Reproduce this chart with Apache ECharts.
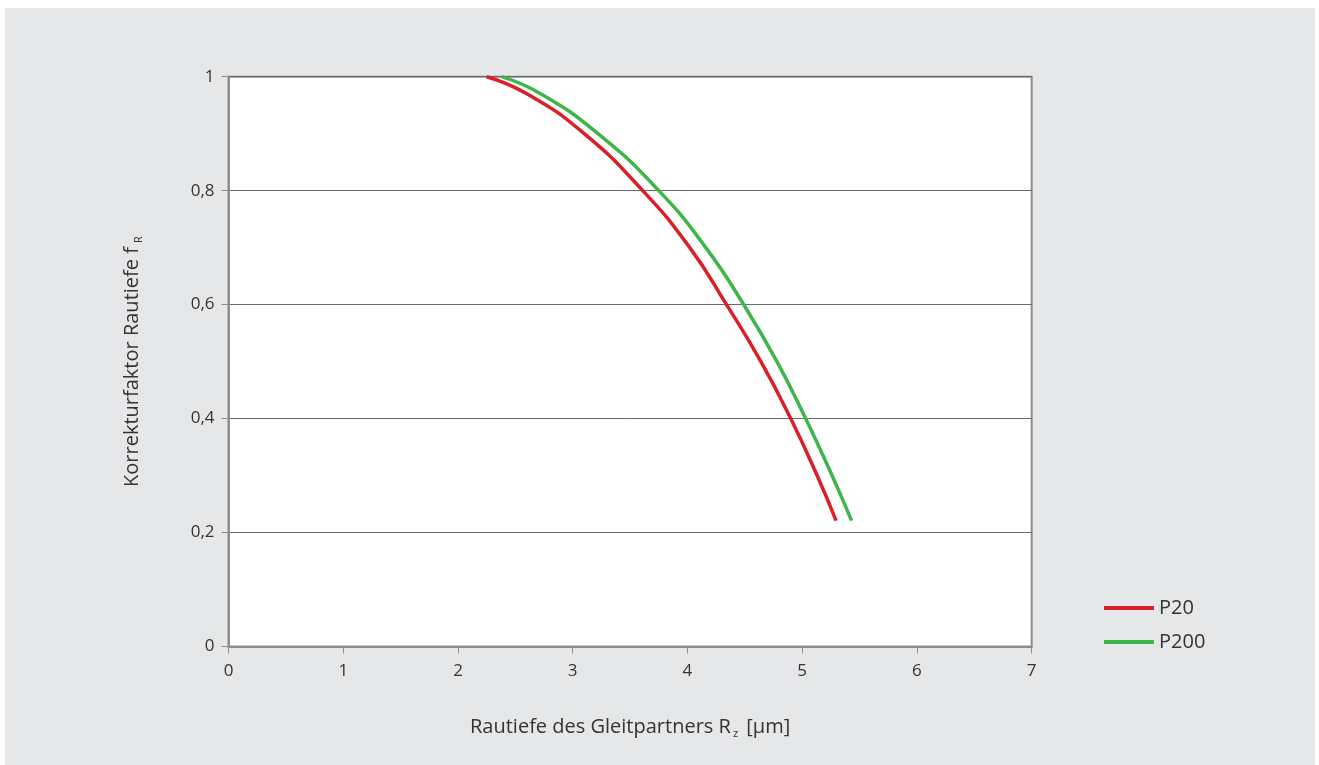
<!DOCTYPE html>
<html>
<head>
<meta charset="utf-8">
<script src="https://cdn.jsdelivr.net/npm/echarts@6/dist/echarts.min.js"></script>
<style>
html,body{margin:0;padding:0;background:#fff;width:1319px;height:765px;overflow:hidden;}
#c{position:absolute;left:5px;top:8px;width:1310px;height:757px;}
</style>
</head>
<body>
<div id="c"></div>
<script>
const xTicks = [0, 1, 2, 3, 4, 5, 6, 7];
const xTickLabels = ['0', '1', '2', '3', '4', '5', '6', '7'];
const yTicks = [0, 0.2, 0.4, 0.6, 0.8, 1];
const yTickLabels = ['0', '0,2', '0,4', '0,6', '0,8', '1'];

const p20X = [2.25, 2.60, 3.10, 3.61, 4.02, 4.34, 4.64, 4.90, 5.13, 5.295];
const p20Y = [1.0, 0.97, 0.9, 0.8, 0.7, 0.6, 0.5, 0.4, 0.3, 0.221];
const p200X = [2.38, 2.72, 3.22, 3.75, 4.16, 4.49, 4.78, 5.03, 5.26, 5.43];
const p200Y = [1.0, 0.97, 0.9, 0.8, 0.7, 0.6, 0.5, 0.4, 0.3, 0.221];

const seriesNames = ['P20', 'P200'];
const colors = ['#dc1e26', '#3db549'];

const font = '"Open Sans", "Noto Sans", sans-serif';
const chart = echarts.init(document.getElementById('c'), null, {renderer: 'canvas'});

function pairs(xs, ys) { return xs.map((x, i) => [x, ys[i]]); }

chart.setOption({
  backgroundColor: '#e6e7e9',
  animation: false,
  textStyle: {fontFamily: font},
  grid: {
    left: 223.5, top: 68.7, right: 283.3, bottom: 118.5,
    show: true, backgroundColor: '#ffffff', borderColor: '#8c8c8c', borderWidth: 2
  },
  legend: {
    orient: 'vertical',
    left: 1094, top: 585,
    itemWidth: 50, itemHeight: 4, itemGap: 14,
    icon: 'rect',
    textStyle: {color: '#333', fontSize: 20, fontFamily: font},
    data: seriesNames
  },
  xAxis: {
    type: 'value', min: 0, max: 7, interval: 1,
    name: 'Rautiefe des Gleitpartners R{sub|z} [µm]',
    nameLocation: 'middle', nameGap: 68,
    nameTextStyle: {
      color: '#333', fontSize: 20, fontFamily: font,
      rich: {sub: {fontSize: 11, color: '#333', fontFamily: font, padding: [14, 3, 0, 2]}}
    },
    axisLine: {show: true, lineStyle: {color: '#8c8c8c', width: 2}},
    axisTick: {show: true, length: 7, lineStyle: {color: '#8c8c8c', width: 1}},
    splitLine: {show: false},
    axisLabel: {
      color: '#333', fontSize: 17, fontFamily: font, margin: 16,
      formatter: v => xTickLabels[xTicks.indexOf(Math.round(v))]
    }
  },
  yAxis: {
    type: 'value', min: 0, max: 1, interval: 0.2,
    name: 'Korrekturfaktor Rautiefe f{sub|R}',
    nameLocation: 'middle', nameGap: 84,
    nameTextStyle: {
      color: '#333', fontSize: 20, fontFamily: font,
      rich: {sub: {fontSize: 11, color: '#333', fontFamily: font, padding: [14, 0, 0, 4]}}
    },
    axisLine: {show: true, lineStyle: {color: '#8c8c8c', width: 2}},
    axisTick: {show: true, length: 7, lineStyle: {color: '#8c8c8c', width: 1}},
    splitLine: {show: true, lineStyle: {color: '#6a6a6a', width: 1}},
    axisLabel: {
      color: '#333', fontSize: 17, fontFamily: font, margin: 14,
      formatter: v => yTickLabels[yTicks.findIndex(t => Math.abs(t - v) < 1e-6)]
    }
  },
  series: [
    {
      name: seriesNames[0], type: 'line', data: pairs(p20X, p20Y),
      smooth: 0.5, showSymbol: false, symbol: 'none',
      lineStyle: {color: colors[0], width: 3.5}, itemStyle: {color: colors[0]}
    },
    {
      name: seriesNames[1], type: 'line', data: pairs(p200X, p200Y),
      smooth: 0.5, showSymbol: false, symbol: 'none',
      lineStyle: {color: colors[1], width: 3.5}, itemStyle: {color: colors[1]}
    }
  ]
});
</script>
</body>
</html>
